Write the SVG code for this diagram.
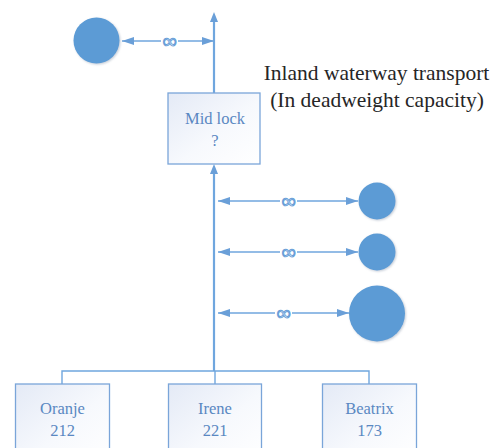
<svg xmlns="http://www.w3.org/2000/svg" width="496" height="448" viewBox="0 0 496 448">
  <defs>
    <linearGradient id="boxFill" x1="0" y1="0" x2="1" y2="1">
      <stop offset="0" stop-color="#e4eaf6"/>
      <stop offset="0.55" stop-color="#f7f9fd"/>
      <stop offset="1" stop-color="#ffffff"/>
    </linearGradient>
    <filter id="soft" x="-20%" y="-20%" width="140%" height="140%">
      <feGaussianBlur in="SourceAlpha" stdDeviation="1.2"/>
      <feOffset dx="0.5" dy="1" result="b"/>
      <feFlood flood-color="#7f8fa6" flood-opacity="0.45"/>
      <feComposite in2="b" operator="in" result="s"/>
      <feMerge><feMergeNode in="s"/><feMergeNode in="SourceGraphic"/></feMerge>
    </filter>
    <marker id="head" viewBox="0 0 12 8" refX="12" refY="4" markerWidth="12" markerHeight="8" markerUnits="userSpaceOnUse" orient="auto-start-reverse">
      <path d="M0,0 L12,4 L0,8 Z" fill="#6a9fd8"/>
    </marker>
  </defs>
  <style>
    .box { fill: url(#boxFill); stroke: #7aa5d9; stroke-width: 1.3; }
    .lbl { font-family: "Liberation Serif", "DejaVu Serif", serif; font-size: 16.5px; fill: #5a88c2; text-anchor: middle; }
    .title { font-family: "Liberation Serif", "DejaVu Serif", serif; font-size: 21.5px; fill: #262626; text-anchor: middle; }
    .ball { fill: #5b9bd5; }
    .ln { stroke: #6fa6de; fill: none; }
    .arr { stroke: #6fa6de; stroke-width: 1.6; fill: none; marker-start: url(#head); marker-end: url(#head); }
    .inf { font-family: "DejaVu Sans", sans-serif; font-size: 20px; fill: #ffffff; stroke: #6a9fd8; stroke-width: 1; text-anchor: middle; }
    .gap { fill: #ffffff; }
  </style>

  <!-- connectors -->
  <g id="connectors">
    <!-- main spine up to Mid lock -->
    <line class="ln" x1="214" y1="371" x2="214" y2="174" stroke-width="2.2"/>
    <path d="M210,174 L214,164 L218,174 Z" fill="#6a9fd8"/>
    <!-- spine above Mid lock -->
    <line class="ln" x1="214" y1="93" x2="214" y2="22" stroke-width="2.2"/>
    <path d="M210,22 L214,12 L218,22 Z" fill="#6a9fd8"/>
    <!-- bus to the three locks -->
    <polyline class="ln" stroke-width="1.4" points="62,384 62,371 369,371 369,384"/>
    <line class="ln" stroke-width="1.4" x1="215" y1="371" x2="215" y2="384"/>

    <!-- two-way links with infinity labels -->
    <line class="arr" x1="122" y1="41" x2="214" y2="41"/>
    <rect class="gap" x="161" y="36" width="17" height="10"/>
    <text class="inf" x="169.5" y="47.5">∞</text>

    <line class="arr" x1="218" y1="201" x2="358" y2="201"/>
    <rect class="gap" x="280" y="196" width="17" height="10"/>
    <text class="inf" x="288.5" y="207.5">∞</text>

    <line class="arr" x1="218" y1="252" x2="358" y2="252"/>
    <rect class="gap" x="280" y="247" width="17" height="10"/>
    <text class="inf" x="288.5" y="258.5">∞</text>

    <line class="arr" x1="218" y1="313" x2="349" y2="313"/>
    <rect class="gap" x="275" y="308" width="17" height="10"/>
    <text class="inf" x="283.5" y="319.5">∞</text>
  </g>

  <!-- waterway end points -->
  <g id="ball-top"><circle class="ball" cx="96.5" cy="40.5" r="23" filter="url(#soft)"/></g>
  <g id="ball-1"><circle class="ball" cx="377" cy="201" r="18.5" filter="url(#soft)"/></g>
  <g id="ball-2"><circle class="ball" cx="377" cy="252" r="18.5" filter="url(#soft)"/></g>
  <g id="ball-3"><circle class="ball" cx="377" cy="313.5" r="28" filter="url(#soft)"/></g>

  <!-- locks -->
  <g id="mid-lock">
    <rect class="box" x="168" y="93" width="92" height="71"/>
    <text class="lbl" x="215" y="124">Mid lock</text>
    <text class="lbl" x="215" y="146">?</text>
  </g>
  <g id="oranje">
    <rect class="box" x="15.5" y="384" width="94" height="80"/>
    <text class="lbl" x="62.5" y="414">Oranje</text>
    <text class="lbl" x="62.5" y="436">212</text>
  </g>
  <g id="irene">
    <rect class="box" x="168.5" y="384" width="93" height="80"/>
    <text class="lbl" x="215" y="414">Irene</text>
    <text class="lbl" x="215" y="436">221</text>
  </g>
  <g id="beatrix">
    <rect class="box" x="322.5" y="384" width="94" height="80"/>
    <text class="lbl" x="369.5" y="414">Beatrix</text>
    <text class="lbl" x="369.5" y="436">173</text>
  </g>

  <!-- heading -->
  <g id="heading">
    <text class="title" x="376.5" y="80">Inland waterway transport</text>
    <text class="title" x="377" y="107">(In deadweight capacity)</text>
  </g>
</svg>
